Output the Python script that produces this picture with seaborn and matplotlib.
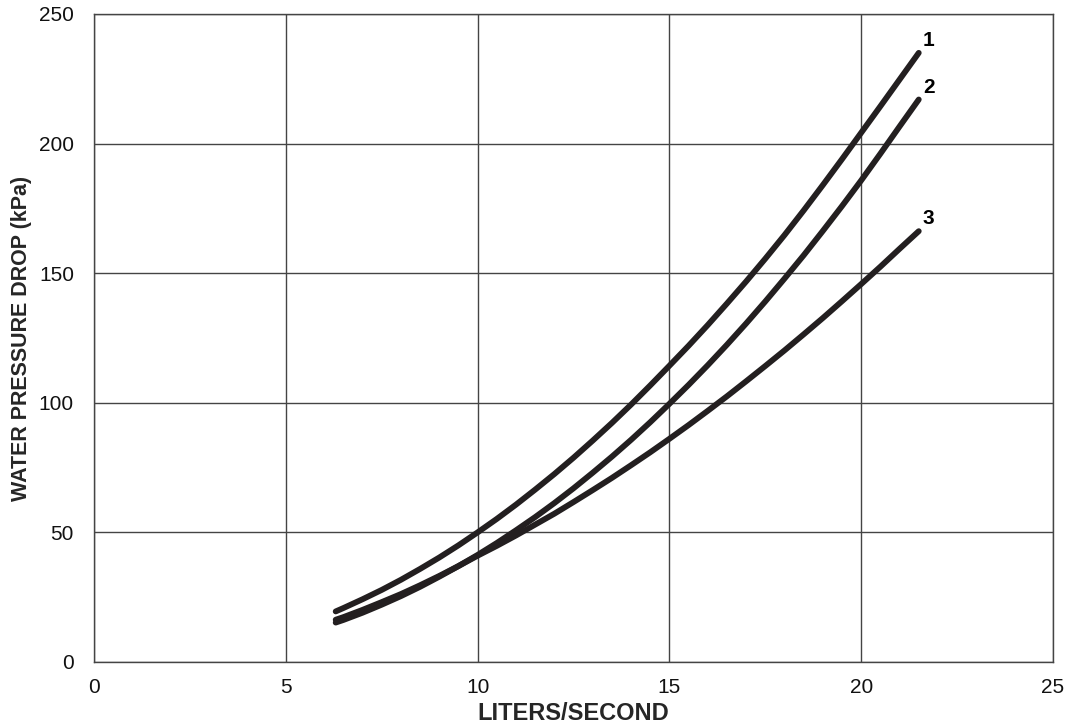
import pandas as pd
import matplotlib.pyplot as plt
import seaborn as sns

# valores (L/s -> kPa), de 0,5 em 0,5
vazao = [6.3, 6.5, 7, 7.5, 8, 8.5, 9, 9.5, 10, 10.5, 11, 11.5, 12, 12.5, 13, 13.5,
         14, 14.5, 15, 15.5, 16, 16.5, 17, 17.5, 18, 18.5, 19, 19.5, 20, 20.5, 21, 21.5]
curva_1 = [19.5, 20.8, 24.2, 27.8, 31.7, 35.9, 40.3, 45.0, 50.0, 55.2, 60.7, 66.5,
           72.5, 78.8, 85.4, 92.2, 99.3, 106.7, 114.3, 122.0, 130.0, 138.3, 146.8,
           155.6, 164.7, 174.2, 184.0, 194.0, 204.2, 214.4, 224.7, 235.0]
curva_2 = [15.2, 16.2, 19.0, 22.1, 25.4, 29.0, 32.9, 37.0, 41.3, 45.9, 50.8, 55.9,
           61.3, 67.0, 73.0, 79.2, 85.7, 92.5, 99.6, 106.9, 114.5, 122.4, 130.6,
           139.1, 147.9, 156.9, 166.3, 175.9, 185.8, 196.1, 206.6, 217.0]
curva_3 = [16.3, 17.3, 20.1, 23.1, 26.2, 29.6, 33.2, 37.0, 41.0, 44.8, 48.8, 53.0,
           57.2, 61.7, 66.3, 71.0, 75.9, 80.9, 86.1, 91.4, 96.9, 102.5, 108.3,
           114.2, 120.2, 126.4, 132.7, 139.2, 145.8, 152.5, 159.4, 166.2]
nomes = ["1", "2", "3"]

df = pd.concat([
    pd.DataFrame({"x": vazao, "y": valores, "curva": nome})
    for nome, valores in zip(nomes, [curva_1, curva_2, curva_3])
], ignore_index=True)

sns.set_style("white")
plt.rcParams['font.family'] = ['Liberation Sans', 'DejaVu Sans']

fig = plt.figure(figsize=(10.71, 7.28), dpi=100)
ax = fig.add_axes([0.0878, 0.0907, 0.8954, 0.8901])

cor = "#231f20"
sns.lineplot(data=df, x="x", y="y", hue="curva", palette=[cor] * 3,
             linewidth=4.2, legend=False, ax=ax, sort=False)

# rótulos no fim de cada curva
for nome, valores in zip(nomes, [curva_1, curva_2, curva_3]):
    ax.annotate(nome, (vazao[-1], valores[-1]), xytext=(3, 9),
                textcoords="offset points", fontsize=15, fontweight="bold",
                color="black", ha="left", va="center")

ax.set_xlim(0, 25)
ax.set_ylim(0, 250)
ax.set_xticks([0, 5, 10, 15, 20, 25])
ax.set_yticks([0, 50, 100, 150, 200, 250])
ax.grid(True, color="#444444", linewidth=1.0)
ax.set_axisbelow(True)
for s in ax.spines.values():
    s.set_color("#444444")
    s.set_linewidth(1.0)
ax.tick_params(axis="both", direction="out", length=4.5, width=1.0,
               color="#444444", labelsize=15, labelcolor="#111111")
ax.tick_params(axis="x", pad=7)
ax.tick_params(axis="y", pad=10)

ax.set_xlabel("LITERS/SECOND", fontsize=17, fontweight="bold", labelpad=4)
ax.set_ylabel("WATER PRESSURE DROP (kPa)", fontsize=15.5, fontweight="bold", labelpad=5)

fig.savefig("out.png", dpi=100)
